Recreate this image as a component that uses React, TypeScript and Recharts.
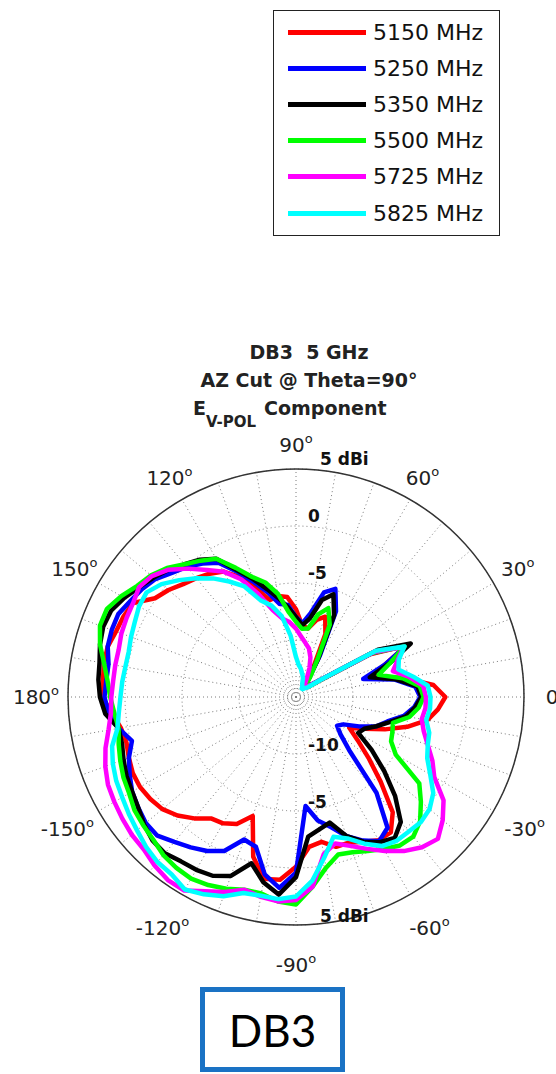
import { RadarChart, Radar, PolarGrid, PolarAngleAxis, PolarRadiusAxis, Legend } from 'recharts';

// azimuth cut, sampled every 5 degrees (0 = right, counter-clockwise)
const angles = [
  0, 5, 10, 15, 20, 25, 30, 35, 40, 45, 50, 55,
  60, 65, 70, 75, 80, 85, 90, 95, 100, 105, 110, 115,
  120, 125, 130, 135, 140, 145, 150, 155, 160, 165, 170, 175,
  180, 185, 190, 195, 200, 205, 210, 215, 220, 225, 230, 235,
  240, 245, 250, 255, 260, 265, 270, 275, 280, 285, 290, 295,
  300, 305, 310, 315, 320, 325, 330, 335, 340, 345, 350, 355,
];

// gain in dBi
const f5150 = [
  -1.9, -2.9, -5.4, -8.2, -6.7, -4.3, -7.5, -12.5, -13.6, -13.8, -13.7, -13.2,
  -11.9, -8.9, -7.5, -8.0, -8.9, -8.7, -7.3, -6.2, -6.0, -6.2, -4.9, -3.4,
  -2.3, -1.8, -1.4, -1.0, -0.4, 0.1, 1.5, 1.7, 1.8, 2.1, 2.1, 2.0,
  2.0, 1.2, 0.6, 0.4, 0.6, 0.8, 0.8, 0.6, 0.3, -0.3, -1.1, -2.0,
  -2.2, -2.7, -3.9, -0.5, 1.2, 1.1, -0.1, -1.8, -2.1, -1.4, -1.4, -1.0,
  -0.5, -0.5, -1.8, -4.5, -6.7, -8.4, -9.6, -8.4, -6.7, -4.9, -3.3, -2.5,
];
const f5250 = [
  -4.1, -4.5, -6.2, -8.9, -6.7, -4.3, -7.3, -12.4, -13.4, -13.7, -13.7, -13.1,
  -10.8, -6.7, -4.9, -5.5, -7.5, -8.5, -8.0, -6.9, -6.7, -5.5, -4.3, -2.9,
  -1.4, -0.7, -0.1, 0.4, 1.1, 1.5, 1.8, 2.2, 2.2, 2.1, 1.7, 1.7,
  1.8, 1.5, 0.8, -0.1, 0.6, 1.1, 1.6, 1.9, 2.2, 2.2, 1.6, 1.1,
  0.6, -0.1, -1.7, -1.4, 0.8, 1.8, 0.4, -5.4, -4.0, -3.2, -2.0, -1.1,
  -0.4, -1.0, -4.0, -8.4, -9.9, -10.6, -10.2, -8.9, -7.5, -6.7, -5.4, -4.6,
];
const f5350 = [
  -4.0, -4.3, -6.1, -8.3, -6.2, -3.9, -6.7, -12.4, -13.4, -13.7, -13.7, -13.1,
  -11.1, -7.1, -5.4, -6.2, -8.0, -8.7, -8.0, -7.1, -6.2, -5.2, -4.0, -2.7,
  -1.0, -0.3, 0.2, 0.8, 1.3, 1.8, 2.4, 2.9, 3.0, 2.8, 2.5, 2.4,
  2.2, 1.8, 0.8, 0.8, 1.1, 1.4, 1.6, 1.9, 2.4, 2.8, 2.9, 2.6,
  2.5, 2.3, 1.7, 0.1, 1.5, 2.4, 0.8, -2.7, -3.2, -3.6, -2.0, -1.0,
  -0.3, 0.1, -0.7, -2.7, -4.9, -6.9, -8.7, -8.4, -7.5, -6.5, -5.2, -4.5,
];
const f5500 = [
  -3.8, -4.1, -5.5, -7.5, -6.2, -4.5, -7.3, -12.5, -13.6, -13.8, -13.6, -12.8,
  -11.3, -8.0, -6.7, -7.5, -8.9, -9.0, -8.4, -7.5, -5.8, -4.6, -3.8, -2.5,
  -1.0, -0.4, 0.2, 1.0, 1.6, 2.0, 2.7, 3.3, 3.3, 2.8, 2.1, 1.6,
  1.3, 1.0, 0.8, 1.1, 1.4, 1.7, 1.9, 2.3, 2.5, 2.7, 3.1, 3.3,
  3.4, 3.2, 2.9, 2.5, 2.5, 3.0, 3.2, 1.7, 0.2, -0.7, -0.5, -0.1,
  0.4, 0.9, 1.0, 0.4, -0.7, -1.8, -4.9, -5.8, -6.0, -6.2, -4.9, -4.2,
];
const f5725 = [
  -3.6, -3.8, -4.9, -6.2, -5.5, -4.6, -7.1, -12.4, -13.4, -13.8, -13.9, -13.7,
  -13.1, -12.2, -11.3, -10.6, -10.2, -9.7, -9.0, -8.4, -8.0, -7.1, -5.4, -3.6,
  -2.3, -1.4, -0.3, 0.8, 1.5, 1.8, 1.5, 1.4, 1.3, 1.1, 1.1, 1.1,
  1.2, 1.3, 1.7, 2.3, 2.8, 3.2, 3.4, 3.6, 3.8, 3.9, 4.3, 4.6,
  4.6, 3.8, 3.2, 2.5, 2.8, 3.0, 2.8, 1.7, -1.0, -1.7, -1.1, -0.3,
  0.6, 1.5, 2.2, 2.6, 1.8, 0.8, -1.0, -1.8, -2.7, -3.4, -3.8, -3.6,
];
const f5825 = [
  -3.2, -3.4, -4.6, -5.7, -5.4, -4.5, -6.9, -12.4, -13.7, -13.9, -14.1, -14.1,
  -13.9, -13.7, -13.2, -12.9, -12.5, -12.2, -11.5, -9.6, -7.8, -6.7, -6.0, -4.3,
  -3.3, -2.3, -1.4, -0.5, 0.4, 1.0, 0.9, 0.6, 0.4, 0.2, 0.2, 0.3,
  0.4, 0.6, 0.9, 1.7, 2.1, 2.4, 2.6, 2.9, 3.2, 3.6, 3.9, 4.0,
  4.5, 4.1, 3.6, 2.8, 2.7, 2.8, 2.5, 1.2, -0.7, -2.3, -1.8, -0.8,
  0.1, 0.4, 0.4, 0.5, 0.3, -0.3, -1.4, -2.3, -2.7, -2.9, -3.4, -3.2,
];

const seriesNames = ['5150 MHz', '5250 MHz', '5350 MHz', '5500 MHz', '5725 MHz', '5825 MHz'];
const seriesKeys = ['f5150', 'f5250', 'f5350', 'f5500', 'f5725', 'f5825'];
const seriesColors = ['#ff0000', '#0000ff', '#000000', '#00ff00', '#ff00ff', '#00ffff'];
const seriesValues = [f5150, f5250, f5350, f5500, f5725, f5825];

const radiusTicks = [-10, -5, 0, 5];
const angleLabelTicks = [0, 30, 60, 90, 120, 150, 180, 210, 240, 270, 300, 330];
const spokeAngles = [
  0, 10, 20, 30, 40, 50, 60, 70, 80, 90, 100, 110, 120, 130, 140, 150, 160, 170,
  180, 190, 200, 210, 220, 230, 240, 250, 260, 270, 280, 290, 300, 310, 320, 330, 340, 350,
];

const data = angles.map((a, i) => {
  const row: Record<string, number> = { angle: a };
  seriesKeys.forEach((k, j) => {
    row[k] = seriesValues[j][i];
  });
  return row;
});

const CX = 296;
const CY = 697;
// radar points sit one band (5 deg) after the category start, so start the sweep at -5
const SWEEP_START = -5;
const FONT = '"DejaVu Sans", sans-serif';

function AngleTick(props: any) {
  const { payload } = props;
  if (!angleLabelTicks.includes(payload.value)) return <g />;
  const dir = (payload.value * Math.PI) / 180;
  const r = 260 - 8 * Math.sin(dir);
  const lx = CX + r * Math.cos(dir);
  const ly = CY - r * Math.sin(dir);
  const v = payload.value > 180 ? payload.value - 360 : payload.value;
  return (
    <text x={lx} y={ly + 7} textAnchor="middle" fontFamily={FONT} fontSize={20} fill="#222">
      {v}
      <tspan dy={-9} fontSize={13}>o</tspan>
    </text>
  );
}

function RadiusTick(props: any) {
  const { x, y, payload } = props;
  const v = payload.value;
  const label = v === 5 ? '5 dBi' : String(v);
  const r = Math.hypot(x - CX, y - CY);
  const lx = CX + (v === 5 ? 24 : 12);
  const showTop = v !== -10;
  const showBottom = v !== 0;
  return (
    <g fontFamily={FONT} fontSize={17} fontWeight="bold" fill="#111">
      {showTop && (
        <text x={lx} y={CY - r - 4}>{label}</text>
      )}
      {showBottom && (
        <text x={lx} y={CY + r - 3}>{label}</text>
      )}
    </g>
  );
}

function LegendBox(props: any) {
  const payload = props.payload || [];
  return (
    <div
      style={{
        width: 227,
        height: 226,
        boxSizing: 'border-box',
        border: '1px solid #222',
        background: '#fff',
        paddingTop: 3,
        fontFamily: FONT,
        fontSize: 22,
        color: '#111',
      }}
    >
      {payload.map((e: any) => (
        <div key={e.value} style={{ display: 'flex', alignItems: 'center', height: 36.2 }}>
          <span style={{ width: 78, height: 5, background: e.color, marginLeft: 14, marginRight: 7 }} />
          <span>{e.value}</span>
        </div>
      ))}
    </div>
  );
}

export default function App() {
  return (
    <div style={{ position: 'absolute', left: 0, top: 0, width: 556, height: 1074, background: '#fff', overflow: 'hidden' }}>
      <RadarChart
        width={556}
        height={1074}
        data={data}
        cx={CX}
        cy={CY}
        innerRadius={0}
        outerRadius={228}
        startAngle={SWEEP_START}
        endAngle={SWEEP_START + 360}
        margin={{ top: 0, right: 0, bottom: 0, left: 0 }}
      >
        <PolarGrid
          gridType="circle"
          polarAngles={spokeAngles}
          stroke="#7a7a7a"
          strokeDasharray="1 3"
        />
        <PolarAngleAxis
          dataKey="angle"
          tick={AngleTick}
          tickLine={false}
          axisLine={{ stroke: '#333', strokeWidth: 1.5 }}
          axisLineType="circle"
        />
        <PolarRadiusAxis
          type="number"
          angle={90}
          domain={[-15, 5]}
          ticks={radiusTicks}
          allowDataOverflow
          axisLine={false}
          tick={RadiusTick}
        />
        {seriesKeys.map((k, j) => (
          <Radar
            key={k}
            dataKey={k}
            name={seriesNames[j]}
            stroke={seriesColors[j]}
            strokeWidth={4.5}
            strokeLinejoin="round"
            fill="none"
            fillOpacity={0}
            dot={false}
            isAnimationActive={false}
          />
        ))}
        <Legend
          layout="vertical"
          align="center"
          verticalAlign="middle"
          wrapperStyle={{ left: 273, top: 10, width: 227, height: 226 }}
          content={LegendBox}
        />
      </RadarChart>

      <svg width={556} height={470} style={{ position: 'absolute', left: 0, top: 0, pointerEvents: 'none' }}>
        <g fontFamily={FONT} fontWeight="bold" fill="#222" fontSize={19} textAnchor="middle">
          <text x={309} y={359}>{'DB3\u00a0\u00a05 GHz'}</text>
          <text x={309} y={387}>AZ Cut @ Theta=90°</text>
          <text x={193} y={415} textAnchor="start">
            E<tspan dy={12} fontSize={15}>V-POL</tspan>
            <tspan dy={-12} dx={8}>Component</tspan>
          </text>
        </g>
      </svg>

      <div
        style={{
          position: 'absolute',
          left: 200,
          top: 987,
          width: 145,
          height: 85,
          boxSizing: 'border-box',
          border: '5px solid #1a72c4',
          display: 'flex',
          alignItems: 'center',
          justifyContent: 'center',
          fontFamily: 'Lato, sans-serif',
          fontWeight: 400,
          fontSize: 44,
          color: '#000',
        }}
      >
        DB3
      </div>
    </div>
  );
}
